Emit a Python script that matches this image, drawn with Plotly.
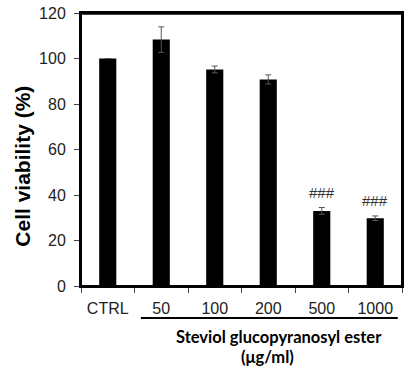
import plotly.graph_objects as go

categories = ["CTRL", "50", "100", "200", "500", "1000"]
viability = [100.0, 108.3, 95.2, 90.8, 33.0, 29.8]
errors = [0.0, 5.6, 1.5, 2.0, 1.5, 1.0]
marks = ["", "", "", "", "###", "###"]
y_ticks = [0, 20, 40, 60, 80, 100, 120]

positions = list(range(len(categories)))

fig = go.Figure()
fig.add_trace(go.Bar(
    x=positions, y=viability,
    marker=dict(color="black", line=dict(width=0)),
    error_y=dict(type="data", array=errors, color="#555555", thickness=1, width=3),
    width=0.32,
))

for p, v, e, m in zip(positions, viability, errors, marks):
    if m:
        fig.add_annotation(x=p, y=v + e, text=m, showarrow=False, yanchor="bottom",
                           yshift=5, font=dict(family="Liberation Sans", size=15, color="#333333"))

# plot frame
fig.add_shape(type="rect", xref="paper", yref="paper", x0=0, x1=1, y0=0, y1=1,
              line=dict(color="black", width=2), layer="above")
fig.add_shape(type="line", xref="paper", yref="paper", x0=0, x1=1, y0=0.997, y1=0.997,
              line=dict(color="black", width=2), layer="above")
fig.add_shape(type="line", xref="x", yref="paper", x0=0.62, x1=5.42, y0=-0.117, y1=-0.117,
              line=dict(color="black", width=2))
fig.add_annotation(xref="paper", yref="paper", x=0.618, y=-0.186, xanchor="center", yanchor="middle",
                   text="<b>Steviol glucopyranosyl ester</b>",
                   showarrow=False, font=dict(family="Lato", size=16.5, color="black"))
fig.add_annotation(xref="paper", yref="paper", x=0.58, y=-0.259, xanchor="center", yanchor="middle",
                   text="<b>(μg/ml)</b>",
                   showarrow=False, font=dict(family="Lato", size=16.5, color="black"))
fig.add_annotation(xref="paper", yref="paper", x=-0.183, y=0.438, xanchor="center", yanchor="middle",
                   text="<b>Cell viability (%)</b>", textangle=-90, showarrow=False,
                   font=dict(family="Liberation Sans", size=21, color="black"))

fig.update_layout(
    width=406, height=370,
    margin=dict(l=81, r=4, t=13, b=84),
    paper_bgcolor="white", plot_bgcolor="white",
    showlegend=False,
    font=dict(family="Liberation Sans", size=16, color="#222222"),
    xaxis=dict(
        range=[-0.5, 5.5], tickvals=positions, ticktext=categories, automargin=False,
        showline=True, linecolor="black", linewidth=2, mirror=True,
        ticks="", showgrid=False, zeroline=False, ticklabelstandoff=7,
        minor=dict(tick0=0.5, dtick=1, ticks="outside", ticklen=5, tickcolor="#444444", showgrid=False),
        tickfont=dict(size=16, color="#222222"),
    ),
    yaxis=dict(
        range=[0, 120], tickvals=y_ticks, showline=True, linecolor="black", linewidth=2, mirror=True,
        ticks="outside", ticklen=5, tickcolor="#444444", showgrid=False, zeroline=False,
        automargin=False, ticklabelstandoff=5,
        tickfont=dict(size=16, color="#222222"),
    ),
)

fig.write_html("out.html", config={"displayModeBar": False},
               post_script="document.body.style.margin='0';document.body.style.overflow='hidden';")
